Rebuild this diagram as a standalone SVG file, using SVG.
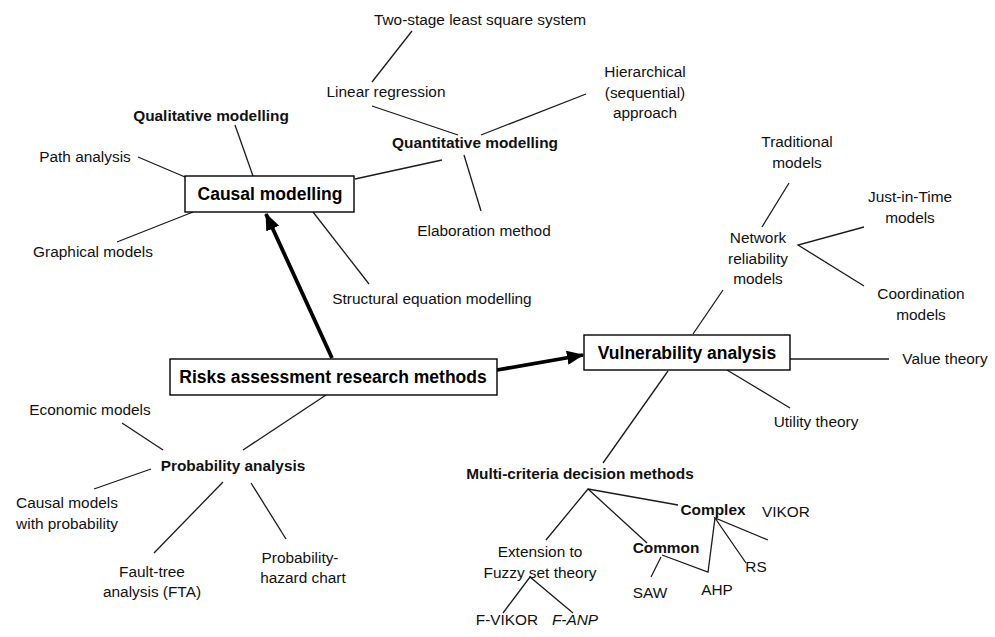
<svg xmlns="http://www.w3.org/2000/svg" width="995" height="637" viewBox="0 0 995 637">
<style>
text{font-family:"Liberation Sans",Arial,sans-serif;font-size:15.4px;fill:#111;text-anchor:middle}
.b{font-weight:bold}
.big{font-weight:bold;font-size:17.5px;fill:#000}
.box{fill:#fff;stroke:#000;stroke-width:1.4}
.ln{stroke:#1a1a1a;stroke-width:1.3;fill:none}
.thick{stroke:#000;stroke-width:3.8;fill:none;marker-end:url(#ah)}
</style>
<defs>
<marker id="ah" markerUnits="userSpaceOnUse" markerWidth="18" markerHeight="14" refX="16" refY="7" orient="auto">
<path d="M0,0 L17,7 L0,14 Z" fill="#000"/>
</marker>
</defs>
<g id="connectors">
<line class="ln" x1="412" y1="31" x2="372" y2="82"/>
<line class="ln" x1="372" y1="106" x2="458" y2="135"/>
<line class="ln" x1="586" y1="94" x2="481" y2="135"/>
<line class="ln" x1="442" y1="160" x2="355" y2="179"/>
<line class="ln" x1="464" y1="155" x2="481" y2="211"/>
<line class="ln" x1="235" y1="125" x2="253" y2="176"/>
<line class="ln" x1="138" y1="157" x2="185" y2="177"/>
<line class="ln" x1="117" y1="242" x2="193" y2="212"/>
<line class="ln" x1="313" y1="212" x2="369" y2="284"/>
<line class="thick" x1="332" y1="358" x2="266" y2="214"/>
<line class="thick" x1="497" y1="370" x2="583" y2="355"/>
<line class="ln" x1="326" y1="395" x2="243" y2="450"/>
<line class="ln" x1="122" y1="423" x2="163" y2="450"/>
<line class="ln" x1="151" y1="469" x2="94" y2="489"/>
<line class="ln" x1="223" y1="482" x2="154" y2="553"/>
<line class="ln" x1="251" y1="483" x2="286" y2="539"/>
<line class="ln" x1="789" y1="183" x2="762" y2="227"/>
<polyline class="ln" points="864,227 798,245 864,286"/>
<line class="ln" x1="693" y1="334" x2="723" y2="290"/>
<line class="ln" x1="790" y1="359" x2="889" y2="359"/>
<line class="ln" x1="727" y1="370" x2="790" y2="408"/>
<line class="ln" x1="668" y1="371" x2="603" y2="463"/>
<polyline class="ln" points="546,540 588,489 647,543"/>
<line class="ln" x1="588" y1="489" x2="678" y2="505"/>
<polyline class="ln" points="768,540 715,518 746,563"/>
<polyline class="ln" points="662,555 708,572 715,518"/>
<line class="ln" x1="661" y1="557" x2="651" y2="577"/>
<polyline class="ln" points="503,613 530,577 573,613"/>
</g>
<g id="risks"><rect class="box" x="170" y="359" width="327" height="36"/><text class="big" x="333" y="383">Risks assessment research methods</text></g>
<g id="causal"><rect class="box" x="185" y="176" width="169" height="36"/><text class="big" x="270" y="200">Causal modelling</text></g>
<g id="vulnerability"><rect class="box" x="584" y="335" width="206" height="35"/><text class="big" x="687" y="359">Vulnerability analysis</text></g>
<g id="two-stage"><text x="480" y="25">Two-stage least square system</text></g>
<g id="linear"><text x="386" y="97">Linear regression</text></g>
<g id="hierarchical"><text x="645" y="77">Hierarchical</text><text x="645" y="98">(sequential)</text><text x="645" y="118">approach</text></g>
<g id="qualitative"><text class="b" x="211" y="121">Qualitative modelling</text></g>
<g id="quantitative"><text class="b" x="475" y="148">Quantitative modelling</text></g>
<g id="path"><text x="85" y="162">Path analysis</text></g>
<g id="graphical"><text x="93" y="257">Graphical models</text></g>
<g id="elaboration"><text x="484" y="236">Elaboration method</text></g>
<g id="structural"><text x="432" y="304">Structural equation modelling</text></g>
<g id="traditional"><text x="797" y="147">Traditional</text><text x="797" y="168">models</text></g>
<g id="jit"><text x="910" y="202">Just-in-Time</text><text x="910" y="223">models</text></g>
<g id="network"><text x="758" y="243">Network</text><text x="758" y="264">reliability</text><text x="758" y="284">models</text></g>
<g id="coordination"><text x="921" y="299">Coordination</text><text x="921" y="320">models</text></g>
<g id="value"><text x="945" y="364">Value theory</text></g>
<g id="utility"><text x="816" y="427">Utility theory</text></g>
<g id="economic"><text x="90" y="415">Economic models</text></g>
<g id="probability"><text class="b" x="233" y="471">Probability analysis</text></g>
<g id="causal-prob"><text x="67" y="508">Causal models</text><text x="67" y="529">with probability</text></g>
<g id="fta"><text x="152" y="577">Fault-tree</text><text x="152" y="597">analysis (FTA)</text></g>
<g id="hazard"><text x="300" y="563">Probability-</text><text x="303" y="583">hazard chart</text></g>
<g id="mcdm"><text class="b" x="580" y="479">Multi-criteria decision methods</text></g>
<g id="complex"><text class="b" x="713" y="515">Complex</text></g>
<g id="extension"><text x="540" y="557">Extension to</text><text x="540" y="578">Fuzzy set theory</text></g>
<g id="common"><text class="b" x="666" y="553">Common</text></g>
<g id="vikor"><text x="786" y="517">VIKOR</text></g>
<g id="rs"><text x="756" y="572">RS</text></g>
<g id="ahp"><text x="717" y="595">AHP</text></g>
<g id="saw"><text x="650" y="598">SAW</text></g>
<g id="fvikor"><text x="507" y="625">F-VIKOR</text></g>
<g id="fanp"><text x="575" y="625" font-style="italic">F-ANP</text></g>
</svg>
